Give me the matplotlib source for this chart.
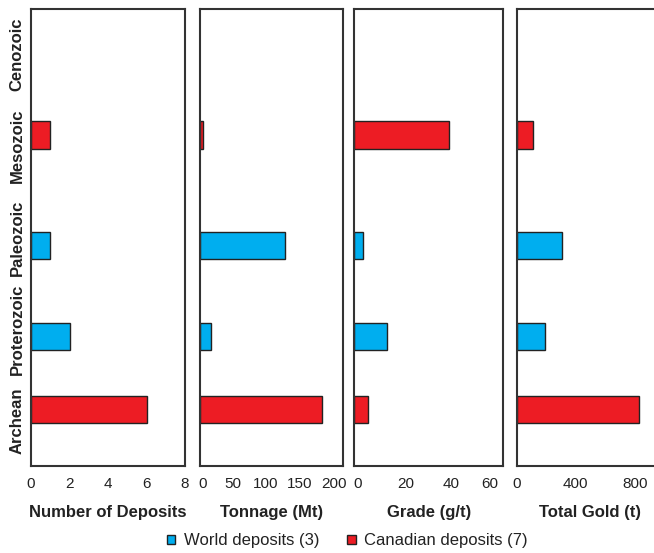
import matplotlib.pyplot as plt
import numpy as np
from matplotlib.patches import Patch
from matplotlib.transforms import ScaledTranslation

plt.rcParams['font.family'] = ['Liberation Sans', 'DejaVu Sans']

# geological eras, top to bottom
eras = ['Cenozoic', 'Mesozoic', 'Paleozoic', 'Proterozoic', 'Archean']

# world deposits (3)
world_eras = ['Paleozoic', 'Proterozoic']
world_count = [1, 2]
world_tonnage = [118, 15]
world_grade = [3.4, 13]
world_gold = [307, 192]

# canadian deposits (7)
can_eras = ['Mesozoic', 'Archean']
can_count = [1, 6]
can_tonnage = [4, 170]
can_grade = [38, 5.4]
can_gold = [113, 831]

panel_titles = ['Number of Deposits', 'Tonnage (Mt)', 'Grade (g/t)', 'Total Gold (t)']
panel_xlim = [8, 200, 60, 1000]
panel_ticks = [[0, 2, 4, 6, 8], [0, 50, 100, 150, 200], [0, 20, 40, 60], [0, 400, 800]]
world_vals = [world_count, world_tonnage, world_grade, world_gold]
can_vals = [can_count, can_tonnage, can_grade, can_gold]

# small horizontal nudges (px) of tick labels, as in the original artwork
label_nudge = [None, [2, -3, -6, -8, -9], [3, 2, -2, -14], None]

blue = '#00AEEF'
red = '#ED1C24'
edge = '#222222'

# axes boxes in figure fraction (left, width)
boxes = [(0.0474, 0.2355), (0.3063, 0.2182), (0.5417, 0.2278), (0.790, 0.2255)]
bottom, height = 0.1573, 0.8264

fig = plt.figure(figsize=(6.54, 5.53), dpi=100)

pos = {e: i + 0.5 for i, e in enumerate(eras)}
bar_h = 0.3

for k in range(4):
    l, w = boxes[k]
    ax = fig.add_axes([l, bottom, w, height])
    wy = [pos[e] + 0.085 for e in world_eras]
    cy = [pos[e] - 0.12 for e in can_eras]
    ax.barh(wy, world_vals[k], height=bar_h, color=blue, edgecolor=edge, linewidth=1)
    ax.barh(cy, can_vals[k], height=bar_h, color=red, edgecolor=edge, linewidth=1)
    ax.set_xlim(0, panel_xlim[k])
    ax.set_ylim(5, 0)
    ax.set_xticks(panel_ticks[k])
    ax.set_xticklabels([str(t) for t in panel_ticks[k]], fontsize=11, color='#222222')
    ax.tick_params(axis='x', length=0, pad=8)
    if label_nudge[k] is not None:
        for lab, dx in zip(ax.get_xticklabels(), label_nudge[k]):
            lab.set_transform(lab.get_transform() + ScaledTranslation(dx / 100, 0, fig.dpi_scale_trans))
    if k == 0:
        ax.set_yticks([pos[e] for e in eras])
        ax.set_yticklabels(eras, rotation=90, va='center', fontweight='bold', fontsize=12)
        ax.tick_params(axis='y', length=0, pad=4.5, labelcolor='#222222')
    else:
        ax.set_yticks([])
    ax.set_xlabel(panel_titles[k], fontweight='bold', fontsize=12, labelpad=10, color='#222222')
    for s in ax.spines.values():
        s.set_color('#333333')
        s.set_linewidth(1.5)

handles = [Patch(facecolor=blue, edgecolor=edge, label='World deposits (3)'),
           Patch(facecolor=red, edgecolor=edge, label='Canadian deposits (7)')]
fig.legend(handles=handles, loc='center', ncol=2, frameon=False, fontsize=12,
           handlelength=0.5, handleheight=0.5, handletextpad=0.5, columnspacing=1.7,
           bbox_to_anchor=(0.531, 0.0217), labelcolor='#222222')

plt.savefig('out.png', dpi=100)
